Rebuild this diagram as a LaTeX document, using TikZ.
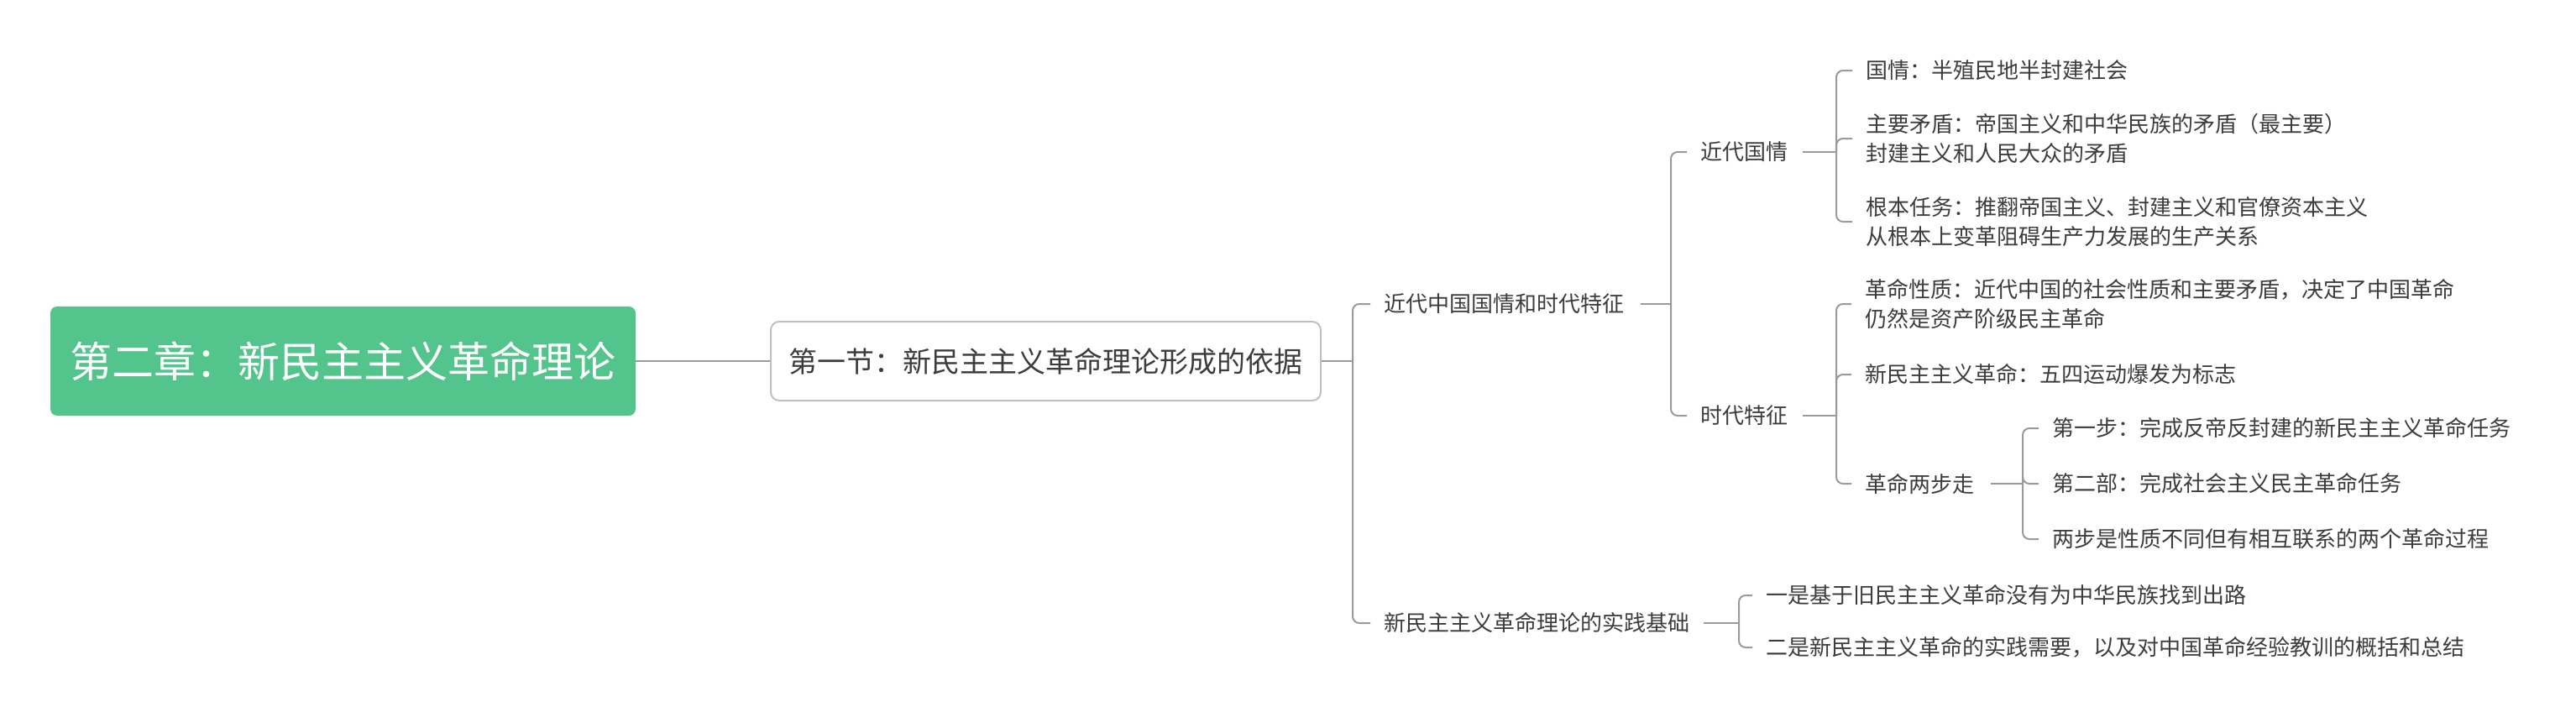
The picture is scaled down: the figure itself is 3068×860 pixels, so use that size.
\documentclass[tikz,border=0pt]{standalone}
\usepackage{fontspec}
\setmainfont{Noto Sans CJK SC}
\usetikzlibrary{calc}
\definecolor{rootgreen}{HTML}{52C48C}
\definecolor{inkgray}{HTML}{3C3C3C}
\definecolor{linegray}{HTML}{9A9A9A}
\definecolor{boxgray}{HTML}{C0C0C0}

\begin{document}
\begin{tikzpicture}[x=1pt, y=-1pt,
    topic/.style={anchor=west, inner sep=0pt, text=inkgray, align=left, font=\fontsize{26}{35}\selectfont},
    branch/.style={draw=linegray, line width=2pt, rounded corners=8pt}]
    \useasboundingbox (0,0) rectangle (3068,860);

    \node[fill=rootgreen, rounded corners=8pt, minimum width=697pt, minimum height=130pt, text=white, font=\fontsize{50}{60}\selectfont] (chap) at (408.5,430) {第二章：新民主主义革命理论};
    \node[draw=boxgray, line width=2pt, fill=white, rounded corners=10pt, minimum width=655pt, minimum height=94pt, text=inkgray, font=\fontsize{34}{40}\selectfont] (sec) at (1245.5,430) {第一节：新民主主义革命理论形成的依据};

    \node[topic] (bg) at (1648,362) {近代中国国情和时代特征};
    \node[topic] (base) at (1648,742) {新民主主义革命理论的实践基础};

    \node[topic] (guoqing) at (2025,181) {近代国情};
    \node[topic] (shidai) at (2025,495) {时代特征};

    \node[topic] (gq1) at (2222,84) {国情：半殖民地半封建社会};
    \node[topic] (gq2) at (2222,165) {主要矛盾：帝国主义和中华民族的矛盾（最主要）\\封建主义和人民大众的矛盾};
    \node[topic] (gq3) at (2222,264) {根本任务：推翻帝国主义、封建主义和官僚资本主义\\从根本上变革阻碍生产力发展的生产关系};

    \node[topic] (sd1) at (2221,362) {革命性质：近代中国的社会性质和主要矛盾，决定了中国革命\\仍然是资产阶级民主革命};
    \node[topic] (sd2) at (2221,446) {新民主主义革命：五四运动爆发为标志};
    \node[topic] (sd3) at (2221,576) {革命两步走};

    \node[topic] (step1) at (2444,510) {第一步：完成反帝反封建的新民主主义革命任务};
    \node[topic] (step2) at (2444,576) {第二部：完成社会主义民主革命任务};
    \node[topic] (step3) at (2444,642) {两步是性质不同但有相互联系的两个革命过程};

    \node[topic] (base1) at (2103,709) {一是基于旧民主主义革命没有为中华民族找到出路};
    \node[topic] (base2) at (2103,771) {二是新民主主义革命的实践需要，以及对中国革命经验教训的概括和总结};

    \draw[branch] (chap) -- (sec);

    \coordinate (jsec) at ($(bg.west |- sec.east)+(-37,0)$);
    \draw[branch] (sec.east) -- (jsec);
    \foreach \c in {bg,base}
        \draw[branch] (jsec) |- ([xshift=-16pt]\c.west);

    \coordinate (jbg) at ($(guoqing.west |- bg.east)+(-35,0)$);
    \draw[branch] ([xshift=20pt]bg.east) -- (jbg);
    \foreach \c in {guoqing,shidai}
        \draw[branch] (jbg) |- ([xshift=-16pt]\c.west);

    \coordinate (jgq) at ($(gq1.west |- guoqing.east)+(-35,0)$);
    \draw[branch] ([xshift=18pt]guoqing.east) -- (jgq);
    \foreach \c in {gq1,gq2,gq3}
        \draw[branch] (jgq) |- ([xshift=-16pt]\c.west);

    \coordinate (jsd) at ($(sd1.west |- shidai.east)+(-34,0)$);
    \draw[branch] ([xshift=18pt]shidai.east) -- (jsd);
    \foreach \c in {sd1,sd2,sd3}
        \draw[branch] (jsd) |- ([xshift=-16pt]\c.west);

    \coordinate (jstep) at ($(step1.west |- sd3.east)+(-35,0)$);
    \draw[branch] ([xshift=20pt]sd3.east) -- (jstep);
    \foreach \c in {step1,step2,step3}
        \draw[branch] (jstep) |- ([xshift=-16pt]\c.west);

    \coordinate (jbase) at ($(base1.west |- base.east)+(-32,0)$);
    \draw[branch] ([xshift=17pt]base.east) -- (jbase);
    \foreach \c in {base1,base2}
        \draw[branch] (jbase) |- ([xshift=-16pt]\c.west);
\end{tikzpicture}
\end{document}
